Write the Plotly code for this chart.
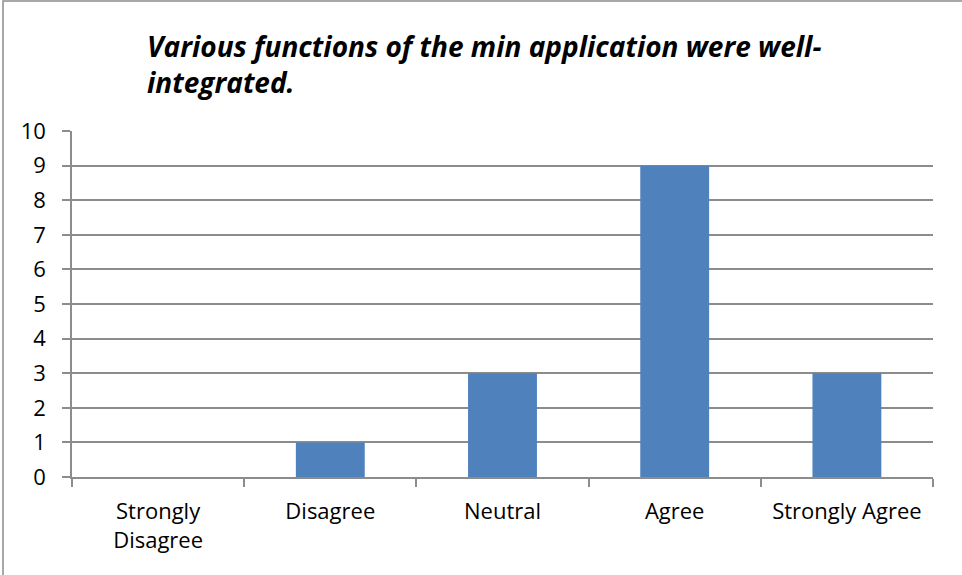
import plotly.graph_objects as go

# survey responses
categories = ["Strongly<br>Disagree", "Disagree", "Neutral", "Agree", "Strongly Agree"]
counts = [0, 1, 3, 9, 3]
y_ticks = list(range(0, 11))

title_text = "Various functions of the min application were well-<br>integrated."

W, H = 962, 575
ml, mr, mt, mb = 72, 29, 131, 98
pw = W - ml - mr
ph = H - mt - mb
axis_gray = "#8c8c8c"

fig = go.Figure()

fig.add_trace(go.Bar(
    x=categories,
    y=counts,
    marker=dict(color="#4F81BD", line=dict(width=0)),
    hoverinfo="x+y",
))

fig.update_layout(
    width=W,
    height=H,
    margin=dict(l=ml, r=mr, t=mt, b=mb),
    paper_bgcolor="white",
    plot_bgcolor="white",
    font=dict(family="Open Sans", size=22, color="black"),
    bargap=0.6,
    showlegend=False,
    title=dict(
        text="<b><i>" + title_text + "</i></b>",
        font=dict(family="Open Sans", size=28, color="black"),
        xref="paper",
        x=(147 - ml) / pw,
        xanchor="left",
        yref="container",
        y=1 - 57 / H,
        yanchor="middle",
    ),
    xaxis=dict(
        type="category",
        showline=True,
        linecolor=axis_gray,
        linewidth=1.5,
        ticks="outside",
        tickson="boundaries",
        ticklen=8,
        tickcolor=axis_gray,
        tickwidth=1.5,
        showgrid=False,
        ticklabelstandoff=14,
    ),
    yaxis=dict(
        range=[0, 10],
        tickvals=y_ticks,
        showline=True,
        linecolor=axis_gray,
        linewidth=1.5,
        ticks="outside",
        ticklen=8,
        tickcolor=axis_gray,
        tickwidth=1.5,
        showgrid=True,
        gridcolor=axis_gray,
        gridwidth=1.5,
        zeroline=False,
        ticklabelstandoff=12,
    ),
)

# outer chart border (only left and top edges are inside the picture)
fig.add_shape(
    type="rect",
    xref="paper", yref="paper",
    x0=(3 - ml) / pw, x1=(W + 10 - ml) / pw,
    y0=-(H + 10 - mt - ph) / ph, y1=1 + (mt - 1) / ph,
    line=dict(color=axis_gray, width=1.5),
    fillcolor="rgba(0,0,0,0)",
    layer="below",
)

fig.write_html("out.html", config={"displayModeBar": False},
               post_script="document.body.style.margin='0';")
